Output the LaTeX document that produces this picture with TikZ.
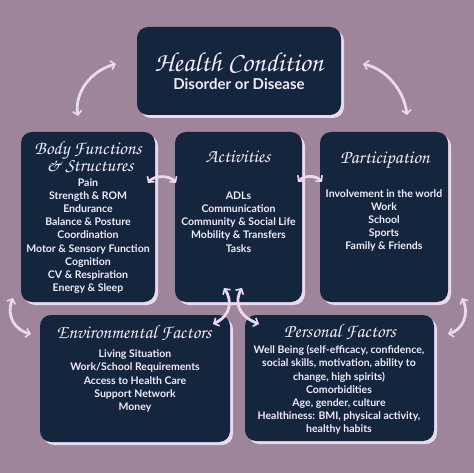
\documentclass[tikz,border=0pt]{standalone}
\usepackage{fontspec}
\setmainfont{Lato}
\newfontfamily\scr{texgyrechorus-mediumitalic.otf}
\usetikzlibrary{arrows.meta,shadows}
\definecolor{bg}{HTML}{9E859A}
\definecolor{navy}{HTML}{14263E}
\definecolor{lav}{HTML}{E9D9F1}
\definecolor{txt}{HTML}{F2EAF6}
\begin{document}
\begin{tikzpicture}[x=1pt,y=-1pt,
  box/.style={fill=navy, rounded corners=11pt, inner sep=0pt,
    general shadow={fill=lav, shadow xshift=3pt, shadow yshift=-3pt}},
  ttl/.style={text=txt, inner sep=0pt, font=\scr\fontsize{#1}{#1}\selectfont},
  ttl/.default=18,
  body/.style={text=txt, inner sep=0pt, align=center,
    font=\bfseries\fontsize{10.5}{13.2}\selectfont},
  arr/.style={draw=lav, line width=2.8pt, line cap=round,
    {Straight Barb[length=4pt,width=9pt,line width=1.6pt]}-{Straight Barb[length=4pt,width=9pt,line width=1.6pt]}}
]
\fill[bg] (0,0) rectangle (474,473);
\useasboundingbox (0,0) rectangle (474,473);

% boxes
\node[box, minimum width=204pt, minimum height=88pt] (hc) at (239,71) {};
\node[box, minimum width=134pt, minimum height=170pt] (bf) at (88,217) {};
\node[box, minimum width=127pt, minimum height=170pt] (act) at (238.5,217) {};
\node[box, minimum width=128pt, minimum height=170pt] (par) at (384,217) {};
\node[box, minimum width=190pt, minimum height=127pt] (env) at (135,378.5) {};
\node[box, minimum width=189pt, minimum height=126pt] (per) at (339.5,378) {};

% titles
\node[ttl=27.5] (hct) at (239,63) {Health Condition};
\node[text=txt, inner sep=0pt, font=\bfseries\fontsize{15}{15}\selectfont] (hcs) at (239,84) {Disorder or Disease};
\node[ttl=19] (bft1) at (88,150) {Body Functions};
\node[ttl=19] (bft2) at (90,167) {\& Structures};
\node[ttl=19] (actt) at (238,157) {Activities};
\node[ttl=19] (part) at (385,160) {Participation};
\node[ttl=19] (envt) at (134,333) {Environmental Factors};
\node[ttl=19] (pert) at (340,332) {Personal Factors};

% body texts
\node[body] (bfb) at (88,236) {Pain\\Strength \& ROM\\Endurance\\Balance \& Posture\\Coordination\\Motor \& Sensory Function\\Cognition\\CV \& Respiration\\Energy \& Sleep};
\node[body] (actb) at (238.5,222) {ADLs\\Communication\\Community \& Social Life\\Mobility \& Transfers\\Tasks};
\node[body] (parb) at (384,220.5) {Involvement in the world\\Work\\School\\Sports\\Family \& Friends};
\node[body] (envb) at (135,381) {Living Situation\\Work/School Requirements\\Access to Health Care\\Support Network\\Money};
\node[body] (perb) at (339,390) {Well Being (self-efficacy, confidence,\\social skills, motivation, ability to\\change, high spirits)\\Comorbidities\\Age, gender, culture\\Healthiness: BMI, physical activity,\\healthy habits};

% arrow end points
\coordinate (a1s) at (78,116);  \coordinate (a1e) at (116,64);
\coordinate (a2s) at (363,64);  \coordinate (a2e) at (407,115);
\coordinate (a3s) at (148,183); \coordinate (a3e) at (176,183);
\coordinate (a4s) at (298,182); \coordinate (a4e) at (322,182);
\coordinate (a5s) at (224,288); \coordinate (a5e) at (213,324);
\coordinate (a6s) at (242,288); \coordinate (a6e) at (259,324);
\coordinate (a7s) at (13,298);  \coordinate (a7e) at (31,334);
\coordinate (a8s) at (462,298); \coordinate (a8e) at (448,334);

\draw[arr] (a1s) .. controls (74,92) and (92,70) .. (a1e);
\draw[arr] (a2s) .. controls (386,69) and (404,90) .. (a2e);
\draw[arr] (a3s) .. controls (154,175) and (170,175) .. (a3e);
\draw[arr] (a4s) .. controls (304,175) and (316,175) .. (a4e);
\draw[arr] (a5s) .. controls (232,300) and (232,315) .. (a5e);
\draw[arr] (a6s) .. controls (235,300) and (236,315) .. (a6e);
\draw[arr] (a7s) .. controls (6,315) and (14,330) .. (a7e);
\draw[arr] (a8s) .. controls (470,315) and (462,330) .. (a8e);
\end{tikzpicture}
\end{document}
